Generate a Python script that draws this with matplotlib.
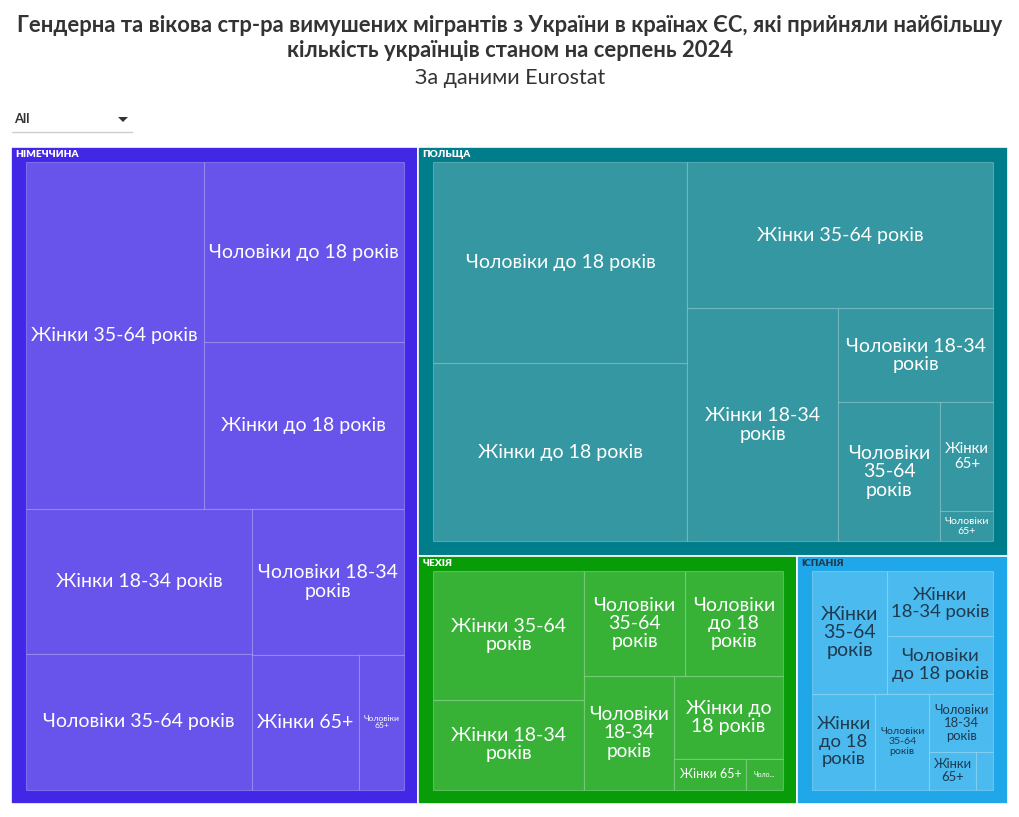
"""Treemap: gender / age structure of Ukrainian refugees in top EU countries (Aug 2024)."""

import numpy as np
import matplotlib
matplotlib.use("Agg")
import matplotlib.pyplot as plt
from matplotlib.patches import Rectangle, Polygon
from matplotlib.font_manager import FontProperties

FONT = ["Lato", "DejaVu Sans"]
W, H, DPI = 1020, 817, 100

TITLE = ["Гендерна та вікова стр-ра вимушених мігрантів з України в країнах ЄС, які прийняли найбільшу",
         "кількість українців станом на серпень 2024"]
SUBTITLE = "За даними Eurostat"

COUNTRIES = ["НІМЕЧЧИНА", "ПОЛЬЩА", "ЧЕХІЯ", "ІСПАНІЯ"]
GROUPS = ["Жінки до 18 років", "Чоловіки до 18 років",
          "Жінки 18-34 років", "Чоловіки 18-34 років",
          "Жінки 35-64 років", "Чоловіки 35-64 років",
          "Жінки 65+", "Чоловіки 65+"]

# thousands of people, in GROUPS order
germany = [150.0, 161.7, 146.7, 99.0, 276.1, 137.2, 64.8, 27.0]
poland  = [203.9, 230.1, 158.1, 65.9, 201.6, 64.2, 26.1, 7.2]
czechia = [44.0, 50.0, 65.9, 49.9, 95.1, 51.9, 10.6, 5.3]
spain   = [31.6, 32.2, 36.3, 19.5, 48.3, 27.2, 9.1, 3.5]
VALUES = [germany, poland, czechia, spain]

OUTER = ["#4227e6", "#007d8a", "#089c08", "#1fa7ea"]
INNER = ["#6853eb", "#3597a1", "#37b237", "#4bbaee"]
TEXT  = ["white", "white", "white", "#1f3a4f"]


def binary(values, x0, y0, x1, y1):
    """d3.treemapBinary on values already sorted desc."""
    n = len(values)
    sums = np.concatenate([[0.0], np.cumsum(values)])
    rects = [None] * n

    def part(i, j, value, x0, y0, x1, y1):
        if i >= j - 1:
            rects[i] = (x0, y0, x1, y1)
            return
        off = sums[i]
        target = value / 2 + off
        k, hi = i + 1, j - 1
        while k < hi:
            mid = (k + hi) // 2
            if sums[mid] < target:
                k = mid + 1
            else:
                hi = mid
        if target - sums[k - 1] < sums[k] - target and i + 1 < k:
            k -= 1
        left = sums[k] - off
        right = value - left
        if x1 - x0 > y1 - y0:
            xk = (x0 * right + x1 * left) / value
            part(i, k, left, x0, y0, xk, y1)
            part(k, j, right, xk, y0, x1, y1)
        else:
            yk = (y0 * right + y1 * left) / value
            part(i, k, left, x0, y0, x1, yk)
            part(k, j, right, x0, yk, x1, y1)

    part(0, n, sums[-1], x0, y0, x1, y1)
    return rects


def layout(values, box):
    order = sorted(range(len(values)), key=lambda i: -values[i])
    rs = binary([values[i] for i in order], *box)
    out = [None] * len(values)
    for o, r in zip(order, rs):
        out[o] = r
    return out


fig = plt.figure(figsize=(W / DPI, H / DPI), dpi=DPI)
ax = fig.add_axes([0, 0, 1, 1])
ax.set_xlim(0, W)
ax.set_ylim(H, 0)
ax.axis("off")
renderer = fig.canvas.get_renderer()


def px(size):
    return size * 72 / DPI


def text_w(s, size, weight="normal"):
    fp = FontProperties(family=FONT, size=px(size), weight=weight)
    w, h, d = renderer.get_text_width_height_descent(s, fp, ismath=False)
    return w


def wrap(words, size, maxw):
    lines, cur = [], ""
    for w in words:
        t = (cur + " " + w).strip()
        if text_w(t, size) <= maxw:
            cur = t
        else:
            if cur == "" or text_w(w, size) > maxw:
                return None
            lines.append(cur)
            cur = w
    lines.append(cur)
    return lines


def fit_label(label, w, h, pad=4, smax=19.5, smin=7):
    aw, ah = w - 2 * pad, h - 2 * pad
    words = label.split()
    for s in np.arange(smax, smin - 0.01, -0.5):
        lines = wrap(words, s, aw)
        if lines and len(lines) * s * 1.05 <= ah:
            return lines, s
    # too small: truncate with dots
    for n in range(len(label) - 1, 2, -1):
        t = label[:n] + "..."
        if text_w(t, smin) <= aw - 6 and smin * 1.1 <= ah:
            return [t], smin
    return None, None


# ── Title / subtitle ────────────────────────────────────────────────────────
tsize = 21 * 984 / text_w(TITLE[0], 21, "bold")
ax.text(W / 2, 25, TITLE[0], ha="center", va="center", fontsize=px(tsize),
        fontweight="bold", color="#333333", family=FONT)
ax.text(W / 2, 50, TITLE[1], ha="center", va="center", fontsize=px(tsize),
        fontweight="bold", color="#333333", family=FONT)
ax.text(W / 2, 78, SUBTITLE, ha="center", va="center", fontsize=px(21.5),
        color="#333333", family=FONT)

# ── Dropdown ────────────────────────────────────────────────────────────────
ax.text(14, 119, "All", ha="left", va="center", fontsize=px(13),
        fontweight="bold", color="#333333", family=FONT)
ax.add_patch(Polygon([[118, 117], [128, 117], [123, 122]], closed=True,
                     facecolor="#333333", edgecolor="none"))
ax.plot([12, 132], [132, 132], color="#cccccc", lw=1)

# ── Treemap ─────────────────────────────────────────────────────────────────
totals = [sum(v) for v in VALUES]
boxes = layout(totals, (11, 147, 1008, 804))
for ci, (x0, y0, x1, y1) in enumerate(boxes):
    ax.add_patch(Rectangle((x0, y0), x1 - x0, y1 - y0, facecolor=OUTER[ci],
                           edgecolor="white", lw=1.2, zorder=1))
    ax.text(x0 + 4, y0 + 7.5, COUNTRIES[ci], ha="left", va="center",
            fontsize=px(10), fontweight="heavy", color=TEXT[ci] if ci == 3 else "white",
            family=FONT, zorder=4)
    inner = (x0 + 15, y0 + 15, x1 - 14.5, y1 - 14.5)
    cells = layout(VALUES[ci], inner)
    for gi, (a0, b0, a1, b1) in enumerate(cells):
        ax.add_patch(Rectangle((a0, b0), a1 - a0, b1 - b0, facecolor=INNER[ci],
                               edgecolor=(1, 1, 1, 0.25), lw=0.8, zorder=2))
        lines, s = fit_label(GROUPS[gi], a1 - a0, b1 - b0)
        if lines is None:
            continue
        ax.text((a0 + a1) / 2, (b0 + b1) / 2, "\n".join(lines), ha="center",
                va="center", ma="center", fontsize=px(s), linespacing=1.1,
                color=TEXT[ci], family=FONT, zorder=3)

fig.savefig("out.png", dpi=DPI)
